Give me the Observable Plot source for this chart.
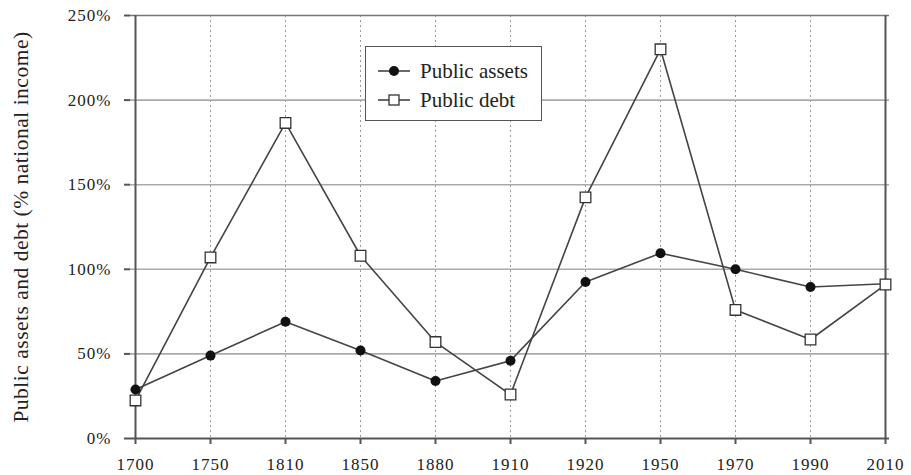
<!DOCTYPE html>
<html><head><meta charset="utf-8">
<script src="https://cdn.jsdelivr.net/npm/d3@7"></script>
<script src="https://cdn.jsdelivr.net/npm/@observablehq/plot@0.6"></script>
<style>
body{margin:0;background:#fff;}
#wrap{position:relative;width:911px;height:475px;font-family:'Liberation Serif',serif;}
#wrap svg text{font-family:'Liberation Serif',serif !important;font-variant-numeric:normal !important;letter-spacing:1px;}
#wrap g[aria-label="y-axis label"] text{font-size:21.5px;letter-spacing:0.5px;}
#legend{position:absolute;left:365px;top:46px;width:175px;height:73px;border:1.6px solid #555;background:#fff;}
#legend .row{position:absolute;left:12px;height:20px;display:flex;align-items:center;font-size:21px;color:#222;}
#legend .row svg{margin-right:10px;}
</style></head><body><div id="wrap"></div>
<script>
const years = ["1700","1750","1810","1850","1880","1910","1920","1950","1970","1990","2010"];
const publicAssets = [29, 49, 69, 52, 34, 46, 92.5, 109.5, 100, 89.5, 91.5];
const publicDebt = [22.5, 107, 186.5, 108, 57, 26, 142.5, 230, 76, 58.5, 91];
const yTicks = [0, 50, 100, 150, 200, 250];
const seriesNames = ["Public assets", "Public debt"];
const yTitle = "Public assets and debt (% national income)";

const assetsRows = years.map((year, i) => ({year, value: publicAssets[i], series: seriesNames[0]}));
const debtRows = years.map((year, i) => ({year, value: publicDebt[i], series: seriesNames[1]}));

const chart = Plot.plot({
  width: 911, height: 475,
  marginLeft: 130, marginRight: 22, marginTop: 15, marginBottom: 37,
  style: {fontFamily: "'Liberation Serif', serif", fontSize: "17px", color: "#222", background: "#fff"},
  x: {type: "point", domain: years, padding: 0},
  y: {domain: [yTicks[0], yTicks[yTicks.length - 1]]},
  marks: [
    Plot.ruleX(years.slice(1, -1), {stroke: "#9a9a9a", strokeWidth: 1, strokeDasharray: "2,3"}),
    Plot.ruleY(yTicks.slice(1, -1), {stroke: "#aaa", strokeWidth: 1.6}),
    Plot.ruleY(yTicks.slice(-1), {stroke: "#777", strokeWidth: 1.6}),
    Plot.ruleX(years.slice(-1), {stroke: "#555", strokeWidth: 2}),
    Plot.ruleX(years.slice(0, 1), {stroke: "#555", strokeWidth: 2}),
    Plot.ruleY(yTicks.slice(0, 1), {stroke: "#555", strokeWidth: 2}),
    Plot.axisX({tickSize: 6, tickPadding: 13, label: null, stroke: "#555", strokeWidth: 2}),
    Plot.axisY({ticks: yTicks, tickFormat: d => d + "%", tickSize: 6, tickPadding: 13,
      stroke: "#555", strokeWidth: 2,
      label: yTitle, labelAnchor: "center", labelArrow: "none", labelOffset: 118}),
    Plot.line(assetsRows, {x: "year", y: "value", stroke: "#444", strokeWidth: 1.6}),
    Plot.line(debtRows, {x: "year", y: "value", stroke: "#444", strokeWidth: 1.6}),
    Plot.dot(assetsRows, {x: "year", y: "value", r: 5, fill: "#111", stroke: "none"}),
    Plot.dot(debtRows, {x: "year", y: "value", symbol: "square", r: 6, fill: "#fff", stroke: "#333", strokeWidth: 1.3})
  ]
});
const wrap = document.getElementById("wrap");
wrap.appendChild(chart);

const legend = d3.select(wrap).append("div").attr("id", "legend");
seriesNames.forEach((name, i) => {
  const row = legend.append("div").attr("class", "row").style("top", (i === 0 ? 14 : 43) + "px");
  const s = row.append("svg").attr("width", 32).attr("height", 14);
  s.append("line").attr("x1", 0).attr("x2", 32).attr("y1", 7).attr("y2", 7).attr("stroke", "#444").attr("stroke-width", 1.6);
  if (i === 0) s.append("circle").attr("cx", 16).attr("cy", 7).attr("r", 5).attr("fill", "#111");
  else s.append("rect").attr("x", 11).attr("y", 2).attr("width", 10).attr("height", 10).attr("fill", "#fff").attr("stroke", "#333").attr("stroke-width", 1.3);
  row.append("span").text(name);
});
</script>
</body></html>
